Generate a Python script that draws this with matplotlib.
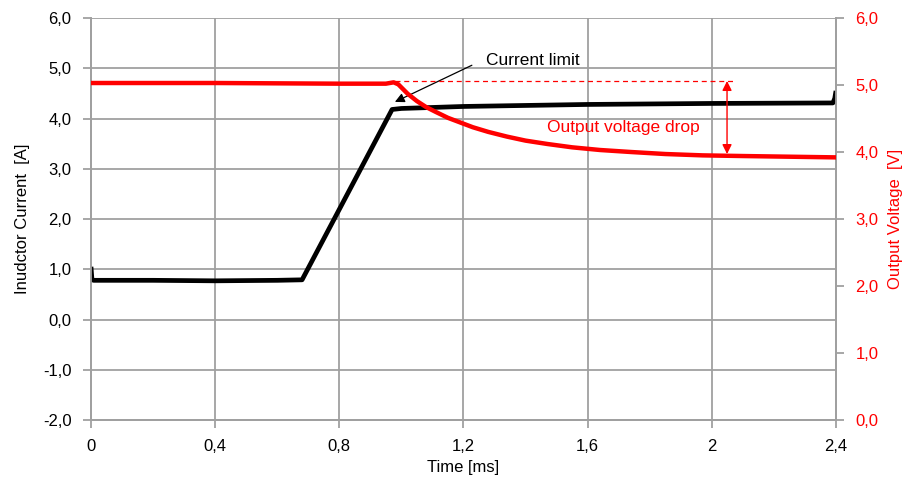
"""
Inductor current and output voltage during a current-limit event.
"""

import matplotlib
matplotlib.use("Agg")
import matplotlib.pyplot as plt

# Inductor current trace [ms], [A]
time_current = [0.0, 0.003, 0.008, 0.2, 0.4, 0.6, 0.68, 0.97, 1.0, 1.2, 1.6, 2.0, 2.39, 2.396, 2.4]
current = [1.05, 0.80, 0.78, 0.78, 0.77, 0.78, 0.79, 4.18, 4.20, 4.24, 4.28, 4.30, 4.31, 4.40, 4.55]

# Output voltage trace [ms], [V]
time_voltage = [0.0, 0.4, 0.8, 0.95, 0.975, 0.99, 1.02, 1.05, 1.08, 1.11, 1.15, 1.19, 1.23,
                1.28, 1.34, 1.40, 1.47, 1.55, 1.64, 1.74, 1.85, 1.97, 2.10, 2.25, 2.4]
voltage = [5.03, 5.03, 5.02, 5.02, 5.04, 5.01, 4.87, 4.76, 4.67, 4.60, 4.51, 4.44, 4.37,
           4.30, 4.23, 4.17, 4.12, 4.07, 4.03, 4.00, 3.97, 3.95, 3.94, 3.93, 3.92]

x_ticks = [0, 0.4, 0.8, 1.2, 1.6, 2.0, 2.4]
x_labels = ["0", "0,4", "0,8", "1,2", "1,6", "2", "2,4"]
left_ticks = [-2, -1, 0, 1, 2, 3, 4, 5, 6]
right_ticks = [0, 1, 2, 3, 4, 5, 6]

plt.rcParams['font.family'] = ['Liberation Sans', 'DejaVu Sans']
plt.rcParams['font.size'] = 12

GRID = "#a0a0a0"


def comma(v):
    return f"{v:.1f}".replace(".", ",")


def main():
    fig = plt.figure(figsize=(9.08, 4.83), dpi=100)
    ax = fig.add_axes([0.1002, 0.1304, 0.8205, 0.8323])
    ax2 = ax.twinx()

    # Axes & grid
    ax.set_xlim(0, 2.4)
    ax.set_ylim(-2, 6)
    ax2.set_ylim(0, 6)
    ax.set_xticks(x_ticks)
    ax.set_xticklabels(x_labels)
    ax.set_yticks(left_ticks)
    ax.set_yticklabels([comma(v) for v in left_ticks])
    ax2.set_yticks(right_ticks)
    ax2.set_yticklabels([comma(v) for v in right_ticks], color="red")
    ax.grid(True, color=GRID, linewidth=1.3)
    ax.set_axisbelow(True)

    for a in (ax, ax2):
        for side, sp in a.spines.items():
            sp.set_color(GRID)
            sp.set_linewidth(1.3)
        a.spines['top'].set_visible(False)
        a.tick_params(length=6, width=1.3, color=GRID, pad=4)
    ax.tick_params(axis='y', pad=8)
    ax2.tick_params(axis='y', pad=8)
    ax.tick_params(axis='x', pad=8)

    ax.set_xlabel("Time [ms]", labelpad=4)
    ax.set_ylabel("Inudctor Current  [A]", labelpad=9)
    ax2.set_ylabel("Output Voltage  [V]", color="red", labelpad=7)

    # Traces
    ax.plot(time_current, current, color="black", linewidth=3.4, solid_capstyle="butt", zorder=3)
    ax2.plot(time_voltage, voltage, color="red", linewidth=3.2, zorder=3)

    # Annotations
    ax.annotate("", xy=(0.979, 4.33), xytext=(1.227, 5.06),
                arrowprops=dict(arrowstyle="-|>", color="black", lw=0.9,
                                mutation_scale=14, shrinkA=0, shrinkB=0))
    ax.text(1.272, 5.16, "Current limit", ha="left", va="center", fontsize=12.5)

    ax2.plot([0.98, 2.07], [5.06, 5.06], color="red", linestyle=(0, (4, 3)), linewidth=0.9)
    ax2.annotate("", xy=(2.049, 3.97), xytext=(2.049, 5.06),
                 arrowprops=dict(arrowstyle="<|-|>", color="red", lw=1.0,
                                 mutation_scale=14, shrinkA=0, shrinkB=0))
    ax2.text(1.469, 4.36, "Output voltage drop", ha="left", va="center", color="red", fontsize=12.5)

    fig.savefig("out.png", dpi=100)


if __name__ == "__main__":
    main()
